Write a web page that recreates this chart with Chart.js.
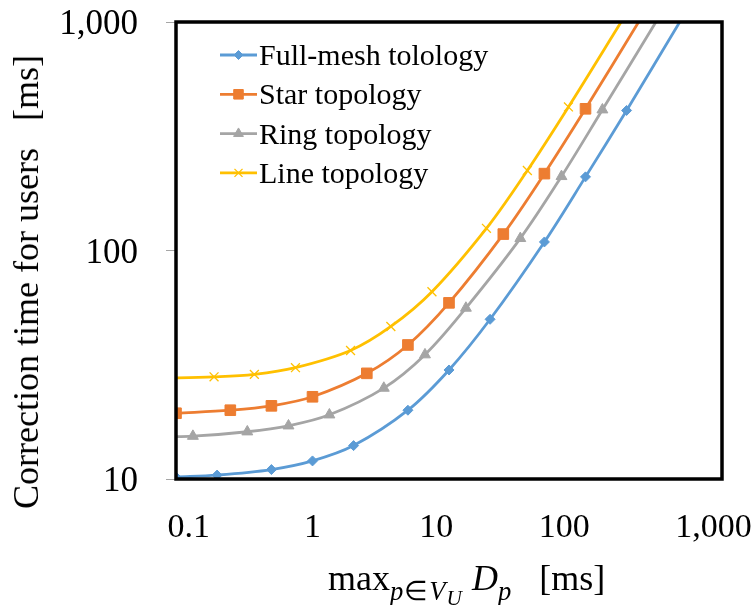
<!DOCTYPE html>
<html>
<head>
<meta charset="utf-8">
<script src="https://cdn.jsdelivr.net/npm/chart.js@4.4.1/dist/chart.umd.min.js"></script>
<style>
  html, body { margin: 0; padding: 0; background: #fff; }
  #wrap { position: relative; width: 755px; height: 605px; overflow: hidden; }
  #myChart { position: absolute; left: 0; top: 0; }
  .axis-title {
    position: absolute;
    font-family: 'Liberation Serif', 'Times New Roman', serif;
    color: #000;
    white-space: pre;
    line-height: 1;
  }
  #yTitle {
    font-size: 36px;
    left: 26px;
    top: 282px;
    transform: translate(-50%, -50%) rotate(-90deg);
  }
  #xTitle { font-size: 36px; left: 328px; top: 560px; }
  #xTitle i { font-style: italic; }
  #xTitle .sub { font-size: 0.74em; vertical-align: -0.36em; letter-spacing: 1px; }
  #xTitle .sub2 { font-size: 0.8em; vertical-align: -0.25em; }
</style>
</head>
<body>
<div id="wrap">
  <canvas id="myChart" width="755" height="605"></canvas>
  <div class="axis-title" id="yTitle">Correction time for users   [ms]</div>
  <div class="axis-title" id="xTitle">max<span class="sub"><i>p</i>∈<i>V</i><span class="sub2"><i>U</i></span></span> <i>D</i><span class="sub"><i>p</i></span>   [ms]</div>
</div>
<script>
// Series (x = max D_p in ms, y = correction time in ms)
const seriesNames = ['Full-mesh tolology', 'Star topology', 'Ring topology', 'Line topology'];

const fullMeshX = [0.1, 0.2, 0.5, 1, 2, 5, 10, 20, 50, 100, 200, 500];
const fullMeshY = [10.2, 10.4, 11, 12, 14, 20, 30, 50, 109, 210, 410, 1020];

const starX = [0.1, 0.25, 0.5, 1, 2.5, 5, 10, 25, 50, 100, 250];
const starY = [19.4, 20, 20.9, 22.9, 29, 38.6, 59, 118, 217, 417, 1020];

const ringX = [0.067, 0.133, 0.333, 0.667, 1.33, 3.33, 6.67, 13.3, 33.3, 66.7, 133, 333];
const ringY = [15.3, 15.4, 16.1, 17.1, 19.1, 25, 35, 56, 113, 211, 413, 1015];

const lineX = [0.075, 0.19, 0.375, 0.75, 1.9, 3.75, 7.5, 18.8, 37.5, 75, 188];
const lineY = [27.6, 28, 28.7, 30.7, 36.5, 46.5, 66, 125, 224, 425, 1030];

const xTickValues = [0.1, 1, 10, 100, 1000];
const xTickLabels = ['0.1', '1', '10', '100', '1,000'];
const yTickValues = [10, 100, 1000];
const yTickLabels = ['10', '100', '1,000'];

const colors = ['#5B9BD5', '#ED7D31', '#A5A5A5', '#FFC000'];
const markers = [
  { style: 'rectRot', radius: 5, border: 1 },
  { style: 'rect', radius: 7.5, border: 1 },
  { style: 'triangle', radius: 6.3, border: 1 },
  { style: 'crossRot', radius: 6.3, border: 1.3 }
];

// Excel-style labels sit a little off the log ticks, nudge them with spaces
const xLabelShift = [3, 0, -3, -5, -2];
const serifFont = "'Liberation Serif', 'Times New Roman', serif";

function toPoints(xs, ys) {
  return xs.map((x, i) => ({ x: x, y: ys[i] }));
}

function inView(ctx) {
  const p = ctx.raw;
  return p && p.x >= 0.1 && p.x <= 1000 && p.y >= 10 && p.y <= 1000;
}

const allSeries = [
  toPoints(fullMeshX, fullMeshY),
  toPoints(starX, starY),
  toPoints(ringX, ringY),
  toPoints(lineX, lineY)
];

const datasets = allSeries.map((pts, i) => ({
  label: seriesNames[i],
  data: pts,
  showLine: true,
  borderColor: colors[i],
  backgroundColor: colors[i],
  borderWidth: 2.8,
  tension: 0.35,
  pointStyle: markers[i].style,
  pointRadius: ctx => inView(ctx) ? markers[i].radius : 0,
  pointBorderWidth: markers[i].border,
  pointBackgroundColor: colors[i],
  pointBorderColor: colors[i]
}));

// black frame round the plot area
const frame = {
  id: 'frame',
  afterDatasetsDraw(chart) {
    const a = chart.chartArea;
    const ctx = chart.ctx;
    ctx.save();
    ctx.strokeStyle = '#000';
    ctx.lineWidth = 3.5;
    ctx.strokeRect(a.left, a.top, a.right - a.left, a.bottom - a.top);
    ctx.restore();
  }
};

// legend inside the plot, line + marker like the spreadsheet one
const insideLegend = {
  id: 'insideLegend',
  afterDraw(chart) {
    const ctx = chart.ctx;
    ctx.save();
    chart.data.datasets.forEach((ds, i) => {
      const y = 55 + i * 39.3;
      ctx.strokeStyle = colors[i];
      ctx.lineWidth = 2.8;
      ctx.beginPath();
      ctx.moveTo(220, y);
      ctx.lineTo(257, y);
      ctx.stroke();
      ctx.fillStyle = colors[i];
      ctx.lineWidth = markers[i].border;
      Chart.helpers.drawPoint(ctx, {
        pointStyle: markers[i].style,
        radius: markers[i].radius * 0.9,
        rotation: 0,
        borderWidth: markers[i].border
      }, 238.5, y);
      ctx.fillStyle = '#000';
      ctx.font = '30px ' + serifFont;
      ctx.textBaseline = 'alphabetic';
      ctx.textAlign = 'left';
      ctx.fillText(ds.label, 259, y + 10);
    });
    ctx.restore();
  }
};

const chartCtx = document.getElementById('myChart').getContext('2d');

const myChart = new Chart(chartCtx, {
  type: 'scatter',
  data: { datasets: datasets },
  options: {
    responsive: false,
    animation: false,
    events: [],
    layout: { padding: { left: 0, top: 22, right: 33, bottom: 0 } },
    plugins: {
      legend: { display: false },
      tooltip: { enabled: false }
    },
    scales: {
      x: {
        type: 'logarithmic',
        min: 0.1,
        max: 1000,
        border: { display: false },
        grid: { drawOnChartArea: false, drawTicks: false },
        ticks: {
          autoSkip: false,
          maxRotation: 0,
          padding: 29,
          color: '#000',
          font: { family: serifFont, size: 34 },
          callback: (v, i) => {
            const s = xLabelShift[i];
            const label = xTickLabels[i];
            return s > 0 ? ' '.repeat(s) + label : label + ' '.repeat(-s);
          }
        },
        afterBuildTicks: scale => {
          scale.ticks = xTickValues.map(v => ({ value: v }));
        },
        afterFit: scale => {
          scale.height = 126;
          scale.paddingLeft = 0;
          scale.paddingRight = 0;
        }
      },
      y: {
        type: 'logarithmic',
        min: 10,
        max: 1000,
        border: { display: false },
        grid: { drawOnChartArea: false, drawTicks: true, tickLength: 10, color: '#A6A6A6' },
        ticks: {
          padding: 28,
          labelOffset: 3,
          color: '#000',
          font: { family: serifFont, size: 35 },
          callback: (v, i) => yTickLabels[i]
        },
        afterBuildTicks: scale => {
          scale.ticks = yTickValues.map(v => ({ value: v }));
        },
        afterFit: scale => {
          scale.width = 176;
          scale.paddingTop = 0;
          scale.paddingBottom = 0;
        }
      }
    }
  },
  plugins: [frame, insideLegend]
});
</script>
</body>
</html>
